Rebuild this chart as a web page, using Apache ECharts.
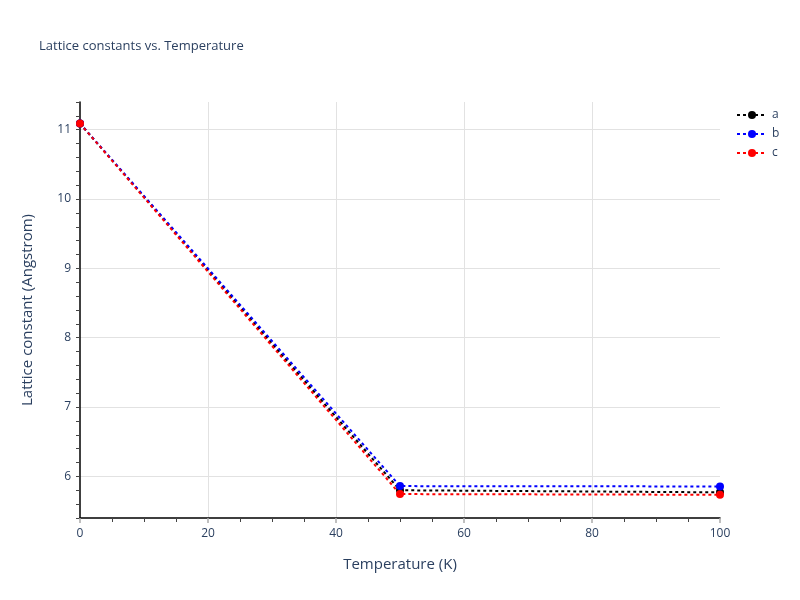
<!DOCTYPE html>
<html>
<head>
<meta charset="utf-8">
<script src="https://cdn.jsdelivr.net/npm/echarts@6/dist/echarts.min.js"></script>
<style>html,body{margin:0;padding:0;background:#fff;}#c{width:800px;height:600px;}</style>
</head>
<body>
<div id="c"></div>
<script>
const temperatures = [0, 50, 100];
const latticeA = [11.09, 5.80, 5.77];
const latticeB = [11.09, 5.86, 5.855];
const latticeC = [11.09, 5.745, 5.735];
const seriesNames = ['a', 'b', 'c'];
const seriesColors = ['#000000', '#0000ff', '#ff0000'];

const textColor = '#2a3f5f';
const font = '"Open Sans", "Noto Sans", sans-serif';
const chart = echarts.init(document.getElementById('c'), null, {renderer: 'canvas'});

function mk(name, vals, color) {
  return {
    name: name,
    type: 'line',
    data: temperatures.map((t, i) => [t, vals[i]]),
    symbol: 'circle',
    symbolSize: 8,
    itemStyle: {color: color},
    lineStyle: {color: color, width: 2, type: [3, 3]},
    animation: false
  };
}

chart.setOption({
  backgroundColor: '#fff',
  textStyle: {fontFamily: font},
  title: {
    text: 'Lattice constants vs. Temperature',
    left: 34, top: 35,
    textStyle: {fontSize: 13, fontWeight: 'normal', color: textColor, fontFamily: font}
  },
  legend: {
    orient: 'vertical',
    left: 731, top: 104,
    itemWidth: 30, itemHeight: 10, itemGap: 7,
    data: seriesNames,
    textStyle: {color: textColor, fontSize: 12, fontFamily: font}
  },
  grid: {left: 80, right: 80, top: 102, bottom: 82, containLabel: false},
  xAxis: {
    type: 'value',
    min: 0, max: 100, interval: 20,
    name: 'Temperature (K)',
    nameLocation: 'middle',
    nameGap: 39,
    nameTextStyle: {color: textColor, fontSize: 15, fontFamily: font},
    axisLine: {show: true, onZero: false, lineStyle: {color: '#000', width: 1.5}},
    axisTick: {show: true, length: 5, lineStyle: {color: '#aaa', width: 1.5}},
    minorTick: {show: true, splitNumber: 4, length: 4, lineStyle: {color: '#444', width: 1}},
    axisLabel: {color: textColor, fontSize: 12, margin: 10, fontFamily: font},
    splitLine: {show: true, showMinLine: false, showMaxLine: false, lineStyle: {color: '#e2e2e2', width: 1}}
  },
  yAxis: {
    type: 'value',
    min: 5.4, max: 11.4, interval: 0.2,
    name: 'Lattice constant (Angstrom)',
    nameLocation: 'middle',
    nameGap: 45,
    nameTextStyle: {color: textColor, fontSize: 15, fontFamily: font},
    axisLine: {show: true, onZero: false, lineStyle: {color: '#000', width: 1.5}},
    axisTick: {show: true, length: 4, lineStyle: {color: '#444', width: 1}},
    axisLabel: {
      color: textColor, fontSize: 12, margin: 9, fontFamily: font,
      formatter: function (v) {
        const r = Math.round(v);
        return Math.abs(v - r) < 1e-6 ? String(r) : '';
      }
    },
    splitLine: {show: true, lineStyle: {color: ['transparent', 'transparent', 'transparent', '#e2e2e2', 'transparent'], width: 1}}
  },
  series: [
    mk(seriesNames[0], latticeA, seriesColors[0]),
    mk(seriesNames[1], latticeB, seriesColors[1]),
    mk(seriesNames[2], latticeC, seriesColors[2])
  ],
  animation: false
});
</script>
</body>
</html>
